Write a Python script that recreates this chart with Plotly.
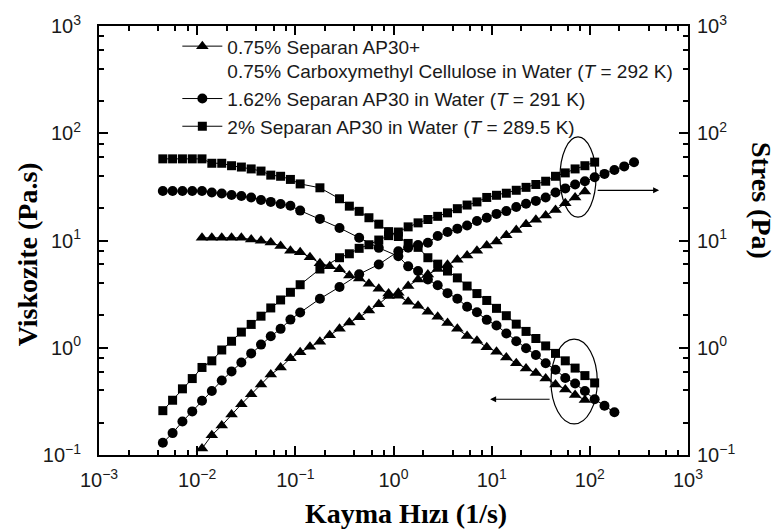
import plotly.graph_objects as go

# Shear rate grids (1/s) for each data set
rate_sq = [0.00447, 0.00562, 0.00708, 0.00891, 0.0112, 0.0141, 0.0178, 0.0224, 0.0282, 0.0355,
           0.0447, 0.0562, 0.0708, 0.0891, 0.112, 0.178, 0.282, 0.355, 0.447, 0.562,
           0.708, 0.891, 1.12, 1.41, 1.78, 2.24, 2.82, 3.55, 4.47, 5.62,
           7.08, 8.91, 11.2, 14.1, 17.8, 22.4, 28.2, 35.5, 44.7, 56.2,
           70.8, 89.1, 112]
rate_ci_visc = [0.00447, 0.00562, 0.00708, 0.00891, 0.0112, 0.0141, 0.0178, 0.0224, 0.0282, 0.0355,
                0.0447, 0.0562, 0.0708, 0.0891, 0.112, 0.178, 0.282, 0.447, 0.708, 1.12,
                1.41, 1.78, 2.24, 2.82, 3.55, 4.47, 5.62, 7.08, 8.91, 11.2,
                14.1, 17.8, 22.4, 28.2, 35.5, 44.7, 56.2, 70.8, 89.1, 112,
                141, 178]
rate_ci_stress = rate_ci_visc + [224, 282]
rate_tr = [0.0112, 0.0141, 0.0178, 0.0224, 0.0282, 0.0355, 0.0447, 0.0562, 0.0708, 0.0891,
           0.112, 0.141, 0.178, 0.224, 0.282, 0.355, 0.447, 0.562, 0.708, 0.891,
           1.12, 1.41, 1.78, 2.24, 2.82, 3.55, 4.47, 5.62, 7.08, 8.91,
           11.2, 14.1, 17.8, 22.4, 28.2, 35.5, 44.7, 56.2, 70.8, 89.1]

# Viscosity (Pa.s)
visc_sq = [57.7, 57.7, 57.7, 57.7, 57.7, 52.5, 52.5, 49.8, 48.4, 46.5,
           44.4, 40.7, 39.7, 37.1, 33.7, 31.0, 24.5, 20.9, 18.7, 16.3,
           14.2, 12.1, 10.9, 9.39, 8.63, 6.91, 6.02, 5.19, 4.48, 3.76,
           3.20, 2.76, 2.33, 1.99, 1.66, 1.42, 1.22, 1.04, 0.886, 0.755,
           0.646, 0.550, 0.470]
visc_ci = [28.9, 28.9, 28.9, 28.9, 28.9, 28.0, 27.4, 26.6, 26.0, 25.2,
           23.9, 22.9, 21.9, 21.1, 19.0, 15.9, 13.1, 10.6, 8.54, 7.13,
           5.74, 5.19, 4.34, 3.82, 3.23, 2.87, 2.41, 2.14, 1.82, 1.61,
           1.36, 1.15, 0.989, 0.857, 0.718, 0.624, 0.523, 0.464, 0.395, 0.331,
           0.288, 0.250]
visc_tr = [10.6, 10.6, 10.6, 10.6, 10.6, 10.2, 9.94, 9.59, 8.87, 8.04,
           7.76, 6.98, 6.15, 5.74, 5.38, 4.72, 4.42, 3.95, 3.55, 3.20,
           3.06, 2.68, 2.46, 2.17, 1.95, 1.70, 1.50, 1.29, 1.16, 1.01,
           0.919, 0.810, 0.718, 0.642, 0.581, 0.516, 0.455, 0.409, 0.363, 0.326]

# Shear stress (Pa)
stress_sq = [0.259, 0.324, 0.414, 0.516, 0.655, 0.755, 0.953, 1.15, 1.40, 1.65,
             1.97, 2.35, 2.79, 3.29, 3.87, 5.42, 6.91, 7.52, 8.45, 9.13,
             10.1, 11.1, 12.0, 13.4, 14.6, 15.7, 16.8, 18.1, 19.8, 21.4,
             22.9, 25.2, 26.4, 27.6, 29.4, 31.3, 33.3, 35.7, 39.7, 42.7,
             46.5, 49.8, 53.8]
stress_ci = [0.130, 0.160, 0.205, 0.255, 0.320, 0.395, 0.495, 0.602, 0.728, 0.886,
             1.07, 1.28, 1.50, 1.83, 2.13, 2.86, 3.69, 4.85, 5.98, 7.93,
             8.57, 9.06, 9.53, 11.0, 12.0, 12.9, 13.8, 15.2, 16.3, 17.7,
             18.8, 20.5, 22.0, 23.4, 25.2, 28.0, 30.6, 33.3, 35.7, 38.9,
             41.8, 45.5, 49.1, 53.6]
stress_tr = [0.115, 0.153, 0.188, 0.238, 0.298, 0.368, 0.455, 0.562, 0.655, 0.798,
             0.906, 1.02, 1.14, 1.31, 1.50, 1.72, 1.92, 2.22, 2.55, 3.04,
             3.26, 3.76, 4.32, 4.81, 5.42, 5.93, 6.60, 7.24, 8.04, 9.00,
             9.79, 11.2, 12.5, 14.2, 15.6, 17.1, 19.2, 22.2, 25.2, 28.6]

names = [
    "0.75% Separan AP30+<br>0.75% Carboxymethyl Cellulose in Water (<i>T</i> = 292 K)",
    "1.62% Separan AP30 in Water (<i>T</i> = 291 K)",
    "2% Separan AP30 in Water (<i>T</i> = 289.5 K)",
]

x_tickvals = [1e-3, 1e-2, 1e-1, 1e0, 1e1, 1e2, 1e3]
x_ticktext = ["10<sup>\u22123</sup>", "10<sup>\u22122</sup>", "10<sup>\u22121</sup>",
              "10<sup>0</sup>", "10<sup>1</sup>", "10<sup>2</sup>", "10<sup>3</sup>"]
y_tickvals = [1e-1, 1e0, 1e1, 1e2, 1e3]
y_ticktext = ["10<sup>\u22121</sup>", "10<sup>0</sup>", "10<sup>1</sup>",
              "10<sup>2</sup>", "10<sup>3</sup>"]

BLACK = "#000000"
line_style = dict(color=BLACK, width=1)

fig = go.Figure()

series = [
    (rate_tr, visc_tr, rate_tr, stress_tr, "triangle-up", 11),
    (rate_ci_visc, visc_ci, rate_ci_stress, stress_ci, "circle", 10),
    (rate_sq, visc_sq, rate_sq, stress_sq, "square", 9),
]
for (xv, yv, xs, ys, sym, size), name in zip(series, names):
    fig.add_trace(go.Scatter(
        x=xv, y=yv, mode="lines+markers", name=name,
        line=line_style, marker=dict(symbol=sym, size=size, color=BLACK),
        yaxis="y",
    ))
    fig.add_trace(go.Scatter(
        x=xs, y=ys, mode="lines+markers", showlegend=False,
        line=line_style, marker=dict(symbol=sym, size=size, color=BLACK),
        yaxis="y2",
    ))

def minor_vals(lo, hi):
    return [m * 10.0 ** d for d in range(lo, hi) for m in (2, 4, 6, 8)]

tick_font = dict(family="Liberation Sans, Arial, sans-serif", size=20, color="#1a1a1a")
minor_x = dict(tickmode="array", tickvals=minor_vals(-3, 3), ticks="inside",
               ticklen=5, tickwidth=1.5, tickcolor=BLACK, showgrid=False)
minor_y = dict(tickmode="array", tickvals=minor_vals(-1, 3), ticks="inside",
               ticklen=5, tickwidth=1.5, tickcolor=BLACK, showgrid=False)

fig.update_layout(
    width=779, height=529,
    margin=dict(l=99, r=91, t=19, b=74),
    paper_bgcolor="white", plot_bgcolor="white",
    showlegend=True,
    legend=dict(
        x=0.133, y=0.997, xanchor="left", yanchor="top",
        bgcolor="rgba(0,0,0,0)", borderwidth=0,
        font=dict(family="Liberation Sans, Arial, sans-serif", size=19, color="#1a1a1a"),
        valign="top", tracegroupgap=0, itemwidth=40,
    ),
    xaxis=dict(
        type="log", range=[-3, 3], showgrid=False, zeroline=False,
        showline=True, linecolor=BLACK, linewidth=2, mirror="ticks",
        ticks="inside", ticklen=9, tickwidth=1.5, tickcolor=BLACK,
        tickmode="array", tickvals=x_tickvals, ticktext=x_ticktext,
        tickfont=tick_font, ticklabelstandoff=6, minor=minor_x,
    ),
    yaxis=dict(
        type="log", range=[-1, 3], showgrid=False, zeroline=False,
        showline=True, linecolor=BLACK, linewidth=2,
        ticks="inside", ticklen=9, tickwidth=1.5, tickcolor=BLACK,
        tickmode="array", tickvals=y_tickvals, ticktext=y_ticktext,
        tickfont=tick_font, ticklabelstandoff=12, minor=minor_y,
    ),
    yaxis2=dict(
        type="log", range=[-1, 3], overlaying="y", side="right",
        showgrid=False, zeroline=False,
        showline=True, linecolor=BLACK, linewidth=2,
        ticks="inside", ticklen=9, tickwidth=1.5, tickcolor=BLACK,
        tickmode="array", tickvals=y_tickvals, ticktext=y_ticktext,
        tickfont=tick_font, ticklabelstandoff=3, minor=minor_y,
    ),
)

title_font = dict(family="Liberation Serif, Times New Roman, serif", size=28, color=BLACK)
fig.add_annotation(text="<b>Kayma Hızı (1/s)</b>", xref="paper", yref="paper",
                   x=0.521, y=-0.137, xanchor="center", yanchor="middle",
                   showarrow=False, font=title_font)
fig.add_annotation(text="<b>Viskozite (Pa.s)</b>", xref="paper", yref="paper",
                   x=-0.122, y=0.468, xanchor="center", yanchor="middle",
                   textangle=-90, showarrow=False, font=title_font)
fig.add_annotation(text="<b>Stres (Pa)</b>", xref="paper", yref="paper",
                   x=1.126, y=0.594, xanchor="center", yanchor="middle",
                   textangle=90, showarrow=False, font=title_font)

# Ellipses grouping the high-shear ends, with arrows pointing to their axes
fig.add_shape(type="circle", xref="paper", yref="paper",
              x0=0.7827, x1=0.8438, y0=0.5544, y1=0.7415,
              line=dict(color=BLACK, width=1.2))
fig.add_shape(type="circle", xref="paper", yref="paper",
              x0=0.7674, x1=0.846, y0=0.0727, y1=0.270,
              line=dict(color=BLACK, width=1.2))
fig.add_annotation(text="", xref="paper", yref="paper", x=0.951, y=0.617,
                   ax=-63, ay=0, showarrow=True, arrowhead=2, arrowsize=1,
                   arrowwidth=1.2, arrowcolor=BLACK)
fig.add_annotation(text="", xref="paper", yref="paper", x=0.664, y=0.130,
                   ax=61, ay=0, showarrow=True, arrowhead=2, arrowsize=1,
                   arrowwidth=1.2, arrowcolor=BLACK)

fig.write_html("out.html")
